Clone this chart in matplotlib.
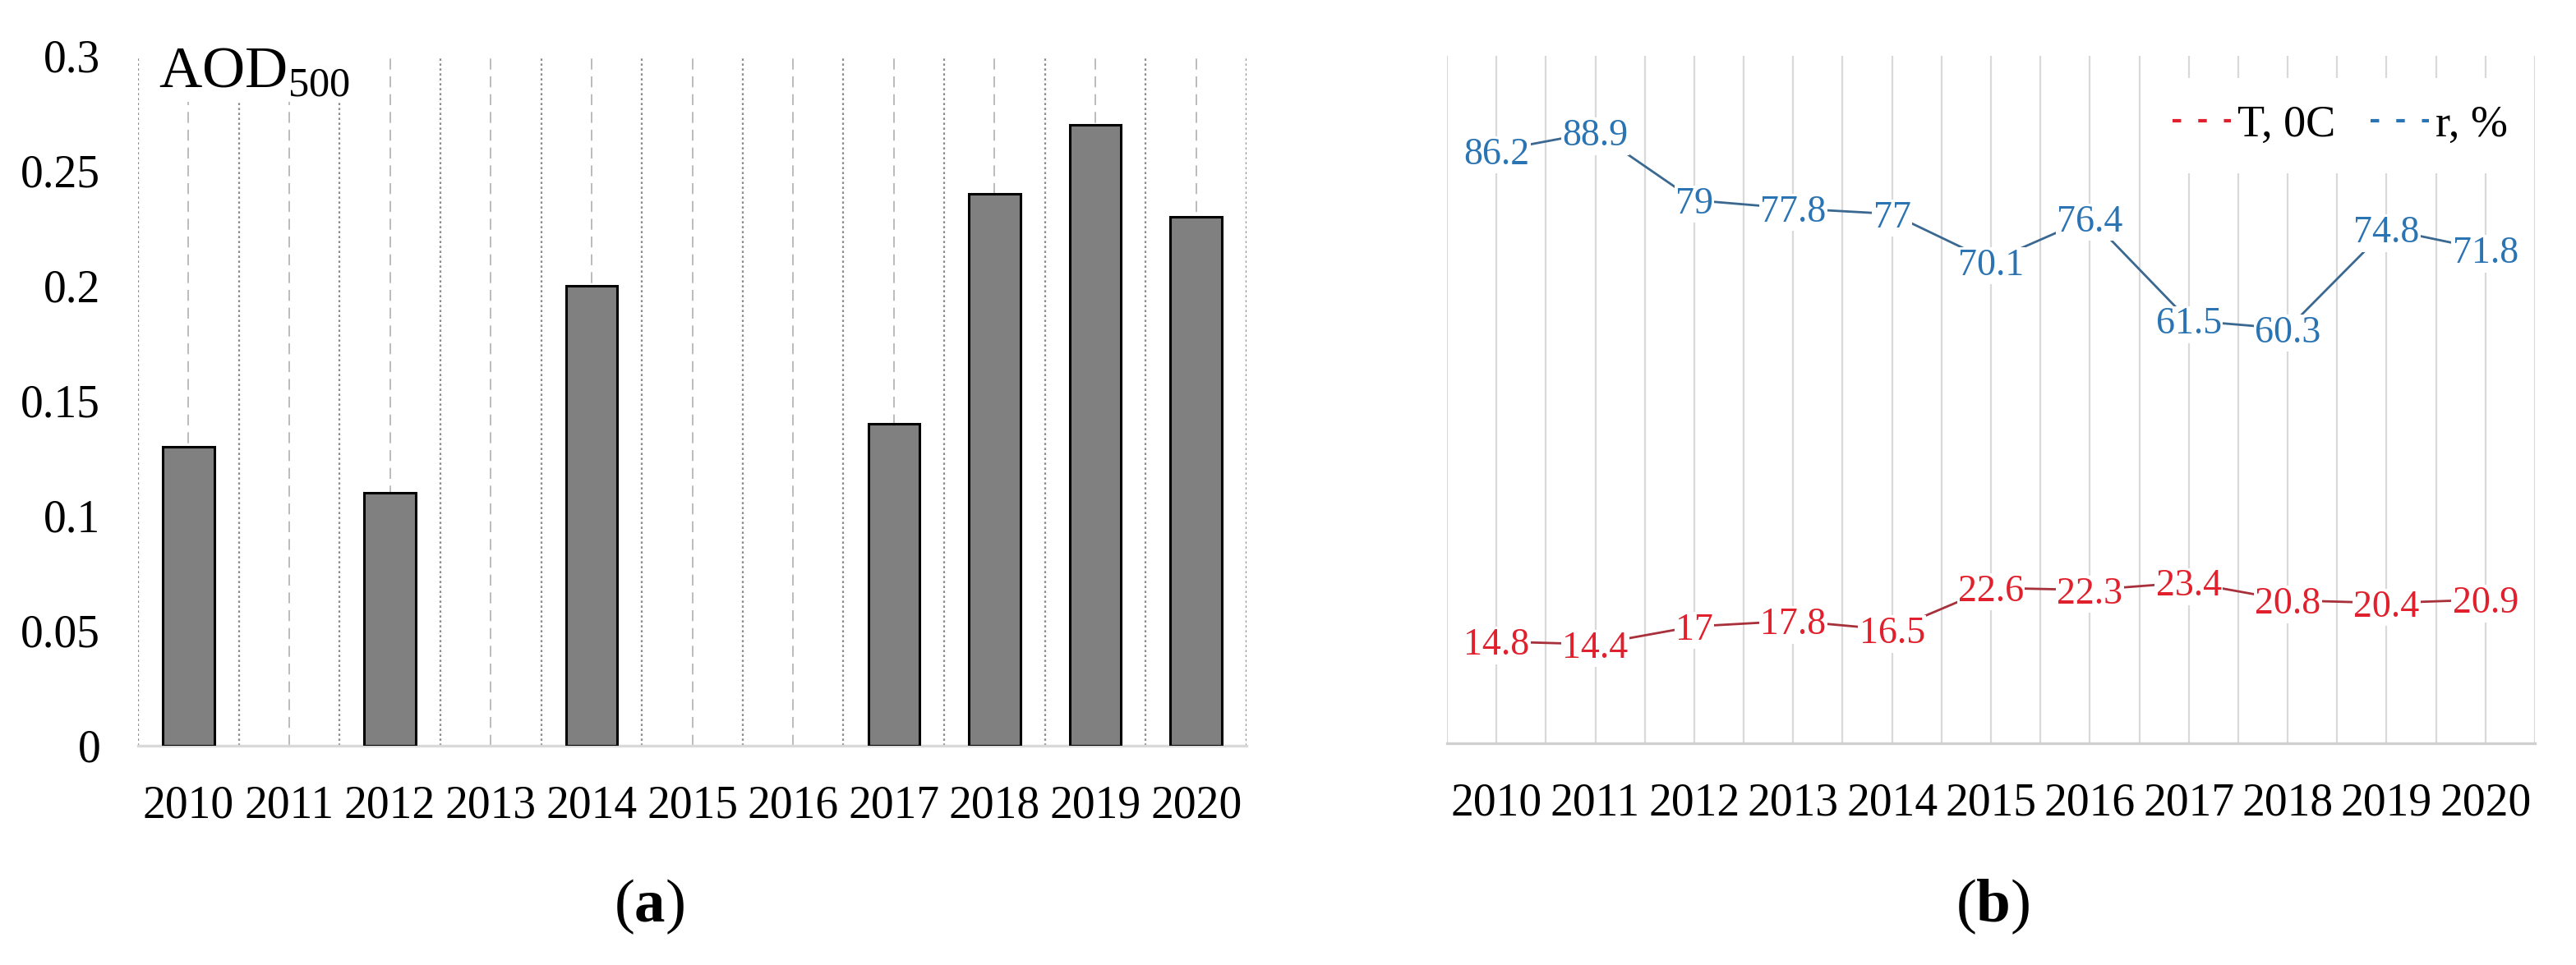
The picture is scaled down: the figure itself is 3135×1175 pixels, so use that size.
import numpy as np
import matplotlib.pyplot as plt
from matplotlib.lines import Line2D

plt.rcParams['font.family'] = ['Liberation Serif', 'DejaVu Serif']
plt.rcParams['mathtext.fontset'] = 'custom'
plt.rcParams['mathtext.rm'] = 'Liberation Serif'
plt.rcParams['mathtext.bf'] = 'Liberation Serif:bold'

years = [str(y) for y in range(2010, 2021)]
aod = [0.13, np.nan, 0.11, np.nan, 0.20, np.nan, np.nan, 0.14, 0.24, 0.27, 0.23]
aod_ticks = [0, 0.05, 0.1, 0.15, 0.2, 0.25, 0.3]
temp = [14.8, 14.4, 17, 17.8, 16.5, 22.6, 22.3, 23.4, 20.8, 20.4, 20.9]
rh = [86.2, 88.9, 79, 77.8, 77, 70.1, 76.4, 61.5, 60.3, 74.8, 71.8]

T_TEXT, T_LINE = '#e0202c', '#a8303a'
R_TEXT, R_LINE = '#2b74b3', '#3a6890'

W, H = 3135, 1175
fig = plt.figure(figsize=(W / 200, H / 200), dpi=200)


def box(l, r, t, b):
    return [l / W, (H - b) / H, (r - l) / W, (b - t) / H]


ax1 = fig.add_axes(box(168, 1517, 68, 908))
ax2 = fig.add_axes(box(1761, 3085, 68, 905))
x = np.arange(len(years))

# (a) AOD bars
aod_arr = np.array(aod)
ok = ~np.isnan(aod_arr)
ax1.bar(x[ok], aod_arr[ok], width=0.51, color='#808080', edgecolor='black',
        linewidth=1.1, zorder=3)
for i in range(len(years) + 1):
    ax1.axvline(i - 0.5, color='#8c8c8c', lw=0.8, ls=(0, (1.2, 1.5)), zorder=1)
for i in range(len(years)):
    ax1.axvline(i, color='#b0b0b0', lw=0.6, ls=(0, (8, 5)), zorder=1)
ax1.set_xlim(-0.5, len(years) - 0.5)
ax1.set_ylim(0, 0.3)
ax1.set_yticks(aod_ticks)
ax1.set_yticklabels([f'{v:g}' for v in aod_ticks])
ax1.set_xticks(x)
ax1.set_xticklabels(years)
ax1.tick_params(axis='both', length=0, labelsize=20)
ax1.tick_params(axis='y', pad=16.5)
ax1.tick_params(axis='x', pad=17)
for s in ['top', 'left', 'right']:
    ax1.spines[s].set_visible(False)
ax1.spines['bottom'].set_color('#d9d9d9')
ax1.spines['bottom'].set_linewidth(1.2)
fig.text(193 / W, 1 - 56 / H, r'AOD$_{\mathrm{500}}$', fontsize=26, ha='left', va='top',
         bbox=dict(facecolor='white', edgecolor='none', pad=1), zorder=5)

# (b) temperature and humidity
for i in np.arange(-0.5, len(years), 0.5):
    ax2.axvline(i, color='#d9d9d9', lw=0.8, zorder=1)
ax2.plot(x, temp, color=T_LINE, lw=1.0, zorder=2)
ax2.plot(x, rh, color=R_LINE, lw=1.0, zorder=2)
for series, col in [(temp, T_TEXT), (rh, R_TEXT)]:
    for xi, v in zip(x, series):
        ax2.annotate(f'{v:g}', (xi, v), xytext=(0, -1.8), textcoords='offset points',
                     ha='center', va='center', color=col, fontsize=16.5,
                     bbox=dict(facecolor='white', edgecolor='none', pad=0.5), zorder=4)
ax2.set_xlim(-0.5, len(years) - 0.5)
ax2.set_ylim(0, 100)
ax2.set_yticks([])
ax2.set_xticks(x)
ax2.set_xticklabels(years)
ax2.tick_params(axis='x', length=0, labelsize=20, pad=17)
for s in ['top', 'left', 'right']:
    ax2.spines[s].set_visible(False)
ax2.spines['bottom'].set_color('#d0d0d0')
ax2.spines['bottom'].set_linewidth(1.2)

handles = [Line2D([], [], color=T_TEXT, lw=1.5, ls=(0, (2.5, 5))),
           Line2D([], [], color=R_TEXT, lw=1.5, ls=(0, (2.5, 5)))]
leg = ax2.legend(handles, ['T, 0C', 'r, %'], ncol=2, loc='center',
                 bbox_to_anchor=(2848 / W, 1 - 153 / H), bbox_transform=fig.transFigure,
                 fontsize=19.5, frameon=True, facecolor='white', edgecolor='none',
                 framealpha=1, handlelength=1.3, handletextpad=0.15,
                 columnspacing=0.8, borderpad=0.6)
leg.set_zorder(5)

fig.text(790 / W, 1 - 1104 / H, r'($\mathbf{a}$)', fontsize=27, ha='center', va='center')
fig.text(2425 / W, 1 - 1104 / H, r'($\mathbf{b}$)', fontsize=27, ha='center', va='center')

fig.savefig('out.png', dpi=200, facecolor='white')
